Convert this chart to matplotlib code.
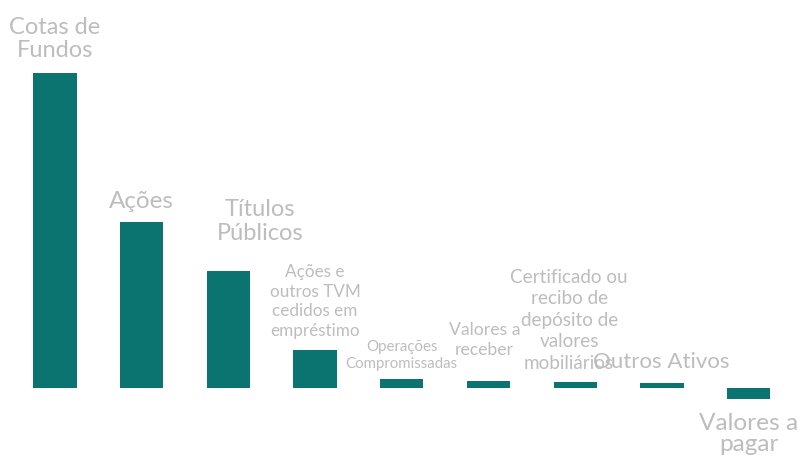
import matplotlib
matplotlib.use("Agg")
import matplotlib.pyplot as plt

categories = [
    "Cotas de\nFundos",
    "Ações",
    "Títulos\nPúblicos",
    "Ações e\noutros TVM\ncedidos em\nempréstimo",
    "Operações\nCompromissadas",
    "Valores a\nreceber",
    "Certificado ou\nrecibo de\ndepósito de\nvalores\nmobiliários",
    "Outros Ativos",
    "Valores a\npagar",
]
values = [31.5, 16.6, 11.7, 3.8, 0.9, 0.7, 0.6, 0.55, -1.1]

# label styling (font size pt, x offset px, y gap px, line spacing)
label_sizes = [17, 17.5, 17, 12.3, 10.8, 12.7, 13.6, 16, 17.6]
label_dx = [0, 0, 32, 0, 0, -4, -6, -1, 0]
label_gap = [12, 10, 27, 11, 8, 23, 10, 10, 14]
label_ls = [1.14, 1.0, 1.15, 1.27, 1.3, 1.3, 1.33, 1.0, 1.02]

BAR = "#0B7470"
TXT = "#BDBDBD"

fig = plt.figure(figsize=(7.98, 4.59), dpi=100)
ax = fig.add_axes([0, 0, 1, 1])
x = list(range(len(values)))
ax.bar(x, values, width=0.5, color=BAR)
ax.set_xlim(-0.634, 8.570)
ax.set_ylim(-7.1, 38.8)
ax.axis("off")

for i, (lab, v) in enumerate(zip(categories, values)):
    if v >= 0:
        ax.annotate(lab, xy=(i, v), xytext=(label_dx[i], label_gap[i]),
                    textcoords="offset pixels", ha="center", va="bottom",
                    fontsize=label_sizes[i], color=TXT, family="Lato",
                    linespacing=label_ls[i], multialignment="center")
    else:
        ax.annotate(lab, xy=(i, v), xytext=(label_dx[i], -label_gap[i]),
                    textcoords="offset pixels", ha="center", va="top",
                    fontsize=label_sizes[i], color=TXT, family="Lato",
                    linespacing=label_ls[i], multialignment="center")

fig.savefig("out.png", dpi=100)
